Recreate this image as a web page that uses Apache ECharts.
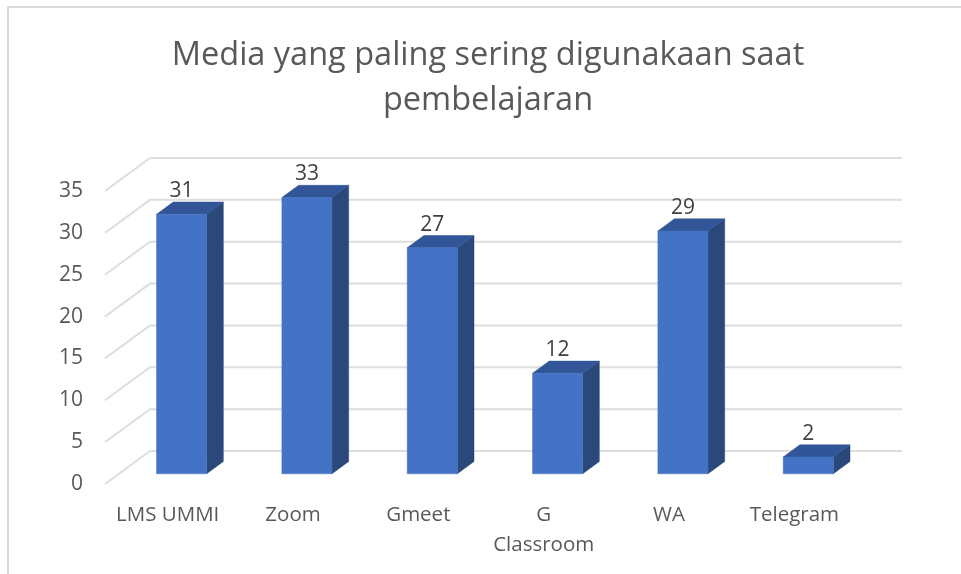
<!DOCTYPE html>
<html>
<head>
<meta charset="utf-8">
<title>Media pembelajaran</title>
<script src="https://cdn.jsdelivr.net/npm/echarts@6/dist/echarts.min.js"></script>
<style>
  html, body { margin: 0; padding: 0; background: #ffffff; }
  #chart { width: 961px; height: 574px; }
</style>
</head>
<body>
<div id="chart"></div>
<script>
const categories = ['LMS UMMI', 'Zoom', 'Gmeet', 'G\nClassroom', 'WA', 'Telegram'];
const values = [31, 33, 27, 12, 29, 2];
const yTicks = [0, 5, 10, 15, 20, 25, 30, 35];
const titleText = 'Media yang paling sering digunakaan saat\npembelajaran';

// depth of the fake 3D floor, in pixels
const wallDx = 45;
const wallDy = -33;
// where the bar sits inside that depth (0 = front, 1 = back wall)
const barFront = 0.31;
const barBack = 0.68;
const barWidthRatio = 0.4;
const fontName = '"Open Sans", "Noto Sans", sans-serif';

const chart = echarts.init(document.getElementById('chart'));

function poly(points, color) {
  return { type: 'polygon', shape: { points }, style: { fill: color, stroke: color, lineWidth: 0.5 } };
}

function renderWall(params, api) {
  const c = api.coord([0, api.value(0)]);
  const left = params.coordSys.x;
  const right = left + params.coordSys.width;
  return {
    type: 'polyline',
    shape: { points: [[left, c[1]], [left + wallDx, c[1] + wallDy], [right + wallDx, c[1] + wallDy]] },
    style: { fill: null, stroke: '#DEDEDE', lineWidth: 2 }
  };
}

function renderBar(params, api) {
  const idx = api.value(0);
  const val = api.value(1);
  const top = api.coord([idx, val]);
  const base = api.coord([idx, 0]);
  const w = api.size([1, 0])[0] * barWidthRatio;
  const fx = wallDx * barFront;
  const fy = wallDy * barFront;
  const bx = wallDx * (barBack - barFront);
  const by = wallDy * (barBack - barFront);
  const x0 = top[0] + fx - w / 2;
  const x1 = x0 + w;
  const yTop = top[1] + fy;
  const yBase = base[1] + fy;
  return {
    type: 'group',
    children: [
      poly([[x1, yTop], [x1 + bx, yTop + by], [x1 + bx, yBase + by], [x1, yBase]], '#2A4879'),
      poly([[x0, yTop], [x0 + bx, yTop + by], [x1 + bx, yTop + by], [x1, yTop]], '#315596'),
      poly([[x0, yTop], [x1, yTop], [x1, yBase], [x0, yBase]], '#4472C4'),
      {
        type: 'text',
        style: {
          x: (x0 + x1) / 2,
          y: yTop - 23,
          text: String(val),
          fill: '#404040',
          font: '21px ' + fontName,
          align: 'center',
          verticalAlign: 'middle'
        }
      }
    ]
  };
}

chart.setOption({
  backgroundColor: '#ffffff',
  animation: false,
  title: {
    text: titleText,
    left: 483,
    top: 28,
    textAlign: 'center',
    textStyle: { fontFamily: fontName, fontSize: 32.5, fontWeight: 'normal', color: '#595959', lineHeight: 45 }
  },
  grid: { left: 105, top: 191, width: 752, height: 293 },
  xAxis: {
    type: 'category',
    data: categories,
    axisLine: { show: false },
    axisTick: { show: false },
    axisLabel: { color: '#595959', fontFamily: fontName, fontSize: 20.5, lineHeight: 30, margin: 16, interval: 0 }
  },
  yAxis: {
    type: 'value',
    min: 0,
    max: 35,
    interval: 5,
    axisLine: { show: false },
    axisTick: { show: false },
    splitLine: { show: false },
    axisLabel: { color: '#595959', fontFamily: fontName, fontSize: 21, margin: 22, padding: [3, 0, 0, 0] }
  },
  series: [
    {
      type: 'custom',
      renderItem: renderWall,
      data: yTicks.map(t => [t]),
      encode: { y: 0 },
      silent: true,
      z: 1
    },
    {
      type: 'custom',
      renderItem: renderBar,
      data: values.map((v, i) => [i, v]),
      encode: { x: 0, y: 1 },
      z: 2
    }
  ],
  graphic: [
    {
      type: 'polyline',
      shape: { points: [[8, 574], [8, 7], [961, 7]] },
      style: { fill: null, stroke: '#D9D9D9', lineWidth: 2 }
    }
  ]
});
</script>
</body>
</html>
